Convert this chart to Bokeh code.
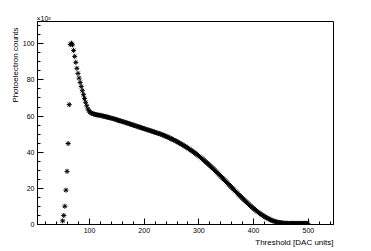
from bokeh.plotting import figure
from bokeh.models import Title, FixedTicker
from bokeh.embed import file_html
from bokeh.resources import INLINE

threshold = [
    51, 53, 55, 57, 59, 61, 63, 65, 67, 69,
    71, 73, 75, 77, 79, 81, 83, 85, 87, 89,
    91, 93, 95, 97, 99, 101, 103, 105, 107, 109,
    111, 113, 115, 117, 119, 121, 123, 125, 127, 129,
    131, 133, 135, 137, 139, 141, 143, 145, 147, 149,
    151, 153, 155, 157, 159, 161, 163, 165, 167, 169,
    171, 173, 175, 177, 179, 181, 183, 185, 187, 189,
    191, 193, 195, 197, 199, 201, 203, 205, 207, 209,
    211, 213, 215, 217, 219, 221, 223, 225, 227, 229,
    231, 233, 235, 237, 239, 241, 243, 245, 247, 249,
    251, 253, 255, 257, 259, 261, 263, 265, 267, 269,
    271, 273, 275, 277, 279, 281, 283, 285, 287, 289,
    291, 293, 295, 297, 299, 301, 303, 305, 307, 309,
    311, 313, 315, 317, 319, 321, 323, 325, 327, 329,
    331, 333, 335, 337, 339, 341, 343, 345, 347, 349,
    351, 353, 355, 357, 359, 361, 363, 365, 367, 369,
    371, 373, 375, 377, 379, 381, 383, 385, 387, 389,
    391, 393, 395, 397, 399, 401, 403, 405, 407, 409,
    411, 413, 415, 417, 419, 421, 423, 425, 427, 429,
    431, 433, 435, 437, 439, 441, 443, 445, 447, 449,
    451, 453, 455, 457, 459, 461, 463, 465, 467, 469,
    471, 473, 475, 477, 479, 481, 483, 485, 487, 489,
    491, 493, 495, 497, 499,
]

# photoelectron counts in units of 10^3
counts_k = [
    2.0, 5.0, 10.1, 19.0, 29.4, 44.8, 66.3, 99.6, 100.3, 99.4,
    96.3, 93.0, 89.7, 86.4, 83.6, 81.0, 78.6, 76.3, 74.0, 71.8,
    69.7, 67.6, 65.7, 64.0, 62.9, 62.2, 61.7, 61.4, 61.2, 61.0,
    60.8, 60.7, 60.6, 60.5, 60.4, 60.3, 60.1, 60.0, 59.8, 59.7,
    59.5, 59.4, 59.2, 59.1, 58.9, 58.7, 58.6, 58.4, 58.2, 58.0,
    57.8, 57.6, 57.4, 57.3, 57.1, 56.9, 56.7, 56.5, 56.3, 56.1,
    55.9, 55.7, 55.5, 55.3, 55.1, 54.9, 54.7, 54.5, 54.3, 54.1,
    53.9, 53.7, 53.5, 53.3, 53.1, 52.9, 52.7, 52.5, 52.3, 52.1,
    51.9, 51.7, 51.5, 51.3, 51.1, 50.9, 50.7, 50.5, 50.3, 50.1,
    49.9, 49.6, 49.4, 49.1, 48.9, 48.6, 48.4, 48.1, 47.8, 47.5,
    47.2, 46.9, 46.6, 46.3, 46.0, 45.7, 45.3, 45.0, 44.6, 44.3,
    43.9, 43.5, 43.2, 42.8, 42.4, 42.0, 41.6, 41.2, 40.8, 40.4,
    39.9, 39.5, 39.0, 38.6, 38.1, 37.6, 37.1, 36.6, 36.1, 35.6,
    35.0, 34.5, 34.0, 33.4, 32.9, 32.3, 31.7, 31.2, 30.6, 30.0,
    29.4, 28.8, 28.2, 27.6, 27.0, 26.4, 25.8, 25.1, 24.5, 23.9,
    23.3, 22.7, 22.0, 21.4, 20.8, 20.2, 19.5, 18.9, 18.3, 17.7,
    17.1, 16.5, 15.9, 15.3, 14.7, 14.1, 13.5, 12.9, 12.3, 11.8,
    11.2, 10.6, 10.1, 9.6, 9.1, 8.6, 8.1, 7.6, 7.1, 6.7,
    6.2, 5.8, 5.4, 5.0, 4.6, 4.2, 3.9, 3.5, 3.2, 2.9,
    2.6, 2.3, 2.1, 1.9, 1.7, 1.5, 1.3, 1.2, 1.1, 1.0,
    0.9, 0.8, 0.8, 0.7, 0.7, 0.7, 0.6, 0.6, 0.6, 0.6,
    0.6, 0.6, 0.6, 0.6, 0.6, 0.6, 0.6, 0.6, 0.6, 0.6,
    0.6, 0.6, 0.6, 0.6, 0.6,
]

x_major = [100, 200, 300, 400, 500]
x_minor = [20, 40, 60, 80, 120, 140, 160, 180, 220, 240, 260, 280,
           320, 340, 360, 380, 420, 440, 460, 480, 520, 540]
y_major = [0, 20, 40, 60, 80, 100]
y_minor = [5, 10, 15, 25, 30, 35, 45, 50, 55, 65, 70, 75, 85, 90, 95, 105, 110]

FONT = "Liberation Sans"

p = figure(width=363, height=247, output_backend="svg", toolbar_location=None,
           x_range=(5, 546), y_range=(0, 112.3),
           min_border_left=37, min_border_right=30, min_border_top=21,
           min_border_bottom=23)
p.background_fill_color = "white"
p.border_fill_color = "white"
p.outline_line_color = "black"
p.outline_line_width = 1
p.grid.visible = False

p.scatter(threshold, counts_k, marker="asterisk", size=5,
          line_color="black", line_width=1)

for ax, maj, mnr in ((p.xaxis[0], x_major, x_minor), (p.yaxis[0], y_major, y_minor)):
    ax.ticker = FixedTicker(ticks=maj, minor_ticks=mnr)
    ax.axis_line_color = "black"
    ax.major_tick_in = 6
    ax.major_tick_out = 0
    ax.minor_tick_in = 3
    ax.minor_tick_out = 0
    ax.major_tick_line_color = "black"
    ax.minor_tick_line_color = "black"
    ax.major_label_text_font = FONT
    ax.major_label_text_font_size = "7px"
    ax.major_label_text_color = "black"
    ax.major_label_standoff = 3

p.add_layout(Title(text="Threshold [DAC units]", align="right", text_font=FONT,
                   text_font_size="8px", text_font_style="normal", text_color="black",
                   standoff=0, offset=0), "below")
p.add_layout(Title(text="Photoelectron counts", align="right", text_font=FONT,
                   text_font_size="8px", text_font_style="normal", text_color="black",
                   standoff=0, offset=6), "left")
p.add_layout(Title(text="\u00d710\u00b3", align="left", text_font=FONT,
                   text_font_size="7px", text_font_style="normal", text_color="black",
                   standoff=0, offset=-1), "above")

open("out.html", "w").write(file_html(p, INLINE))
